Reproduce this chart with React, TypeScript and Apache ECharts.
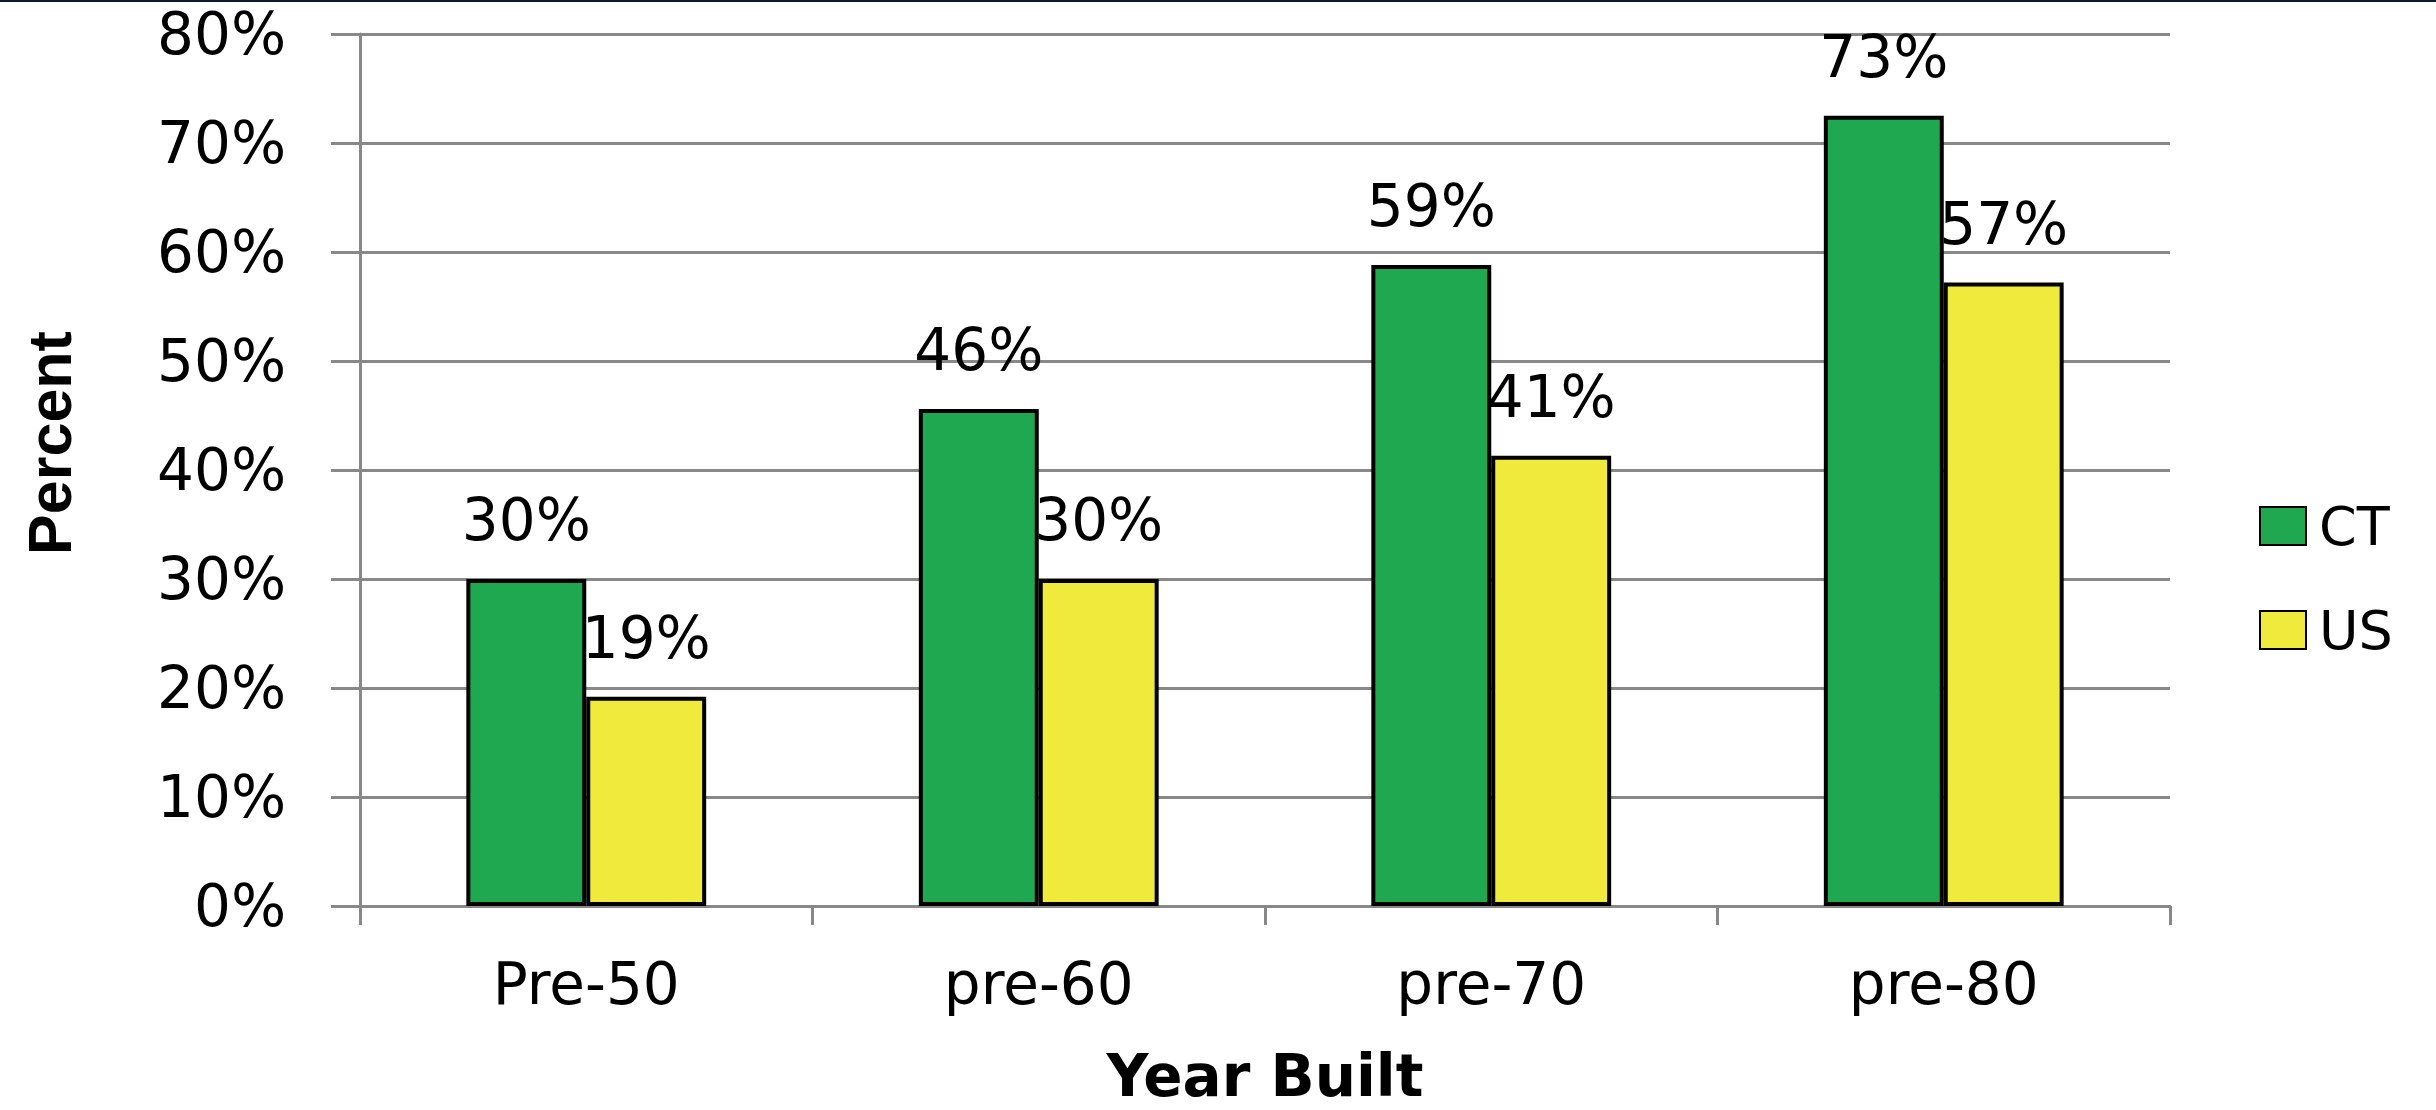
import React, { useEffect, useRef } from "react";
import * as echarts from "echarts";

const categories = ["Pre-50", "pre-60", "pre-70", "pre-80"];
const seriesNames = ["CT", "US"];
const ctValues = [30.0, 45.6, 58.8, 72.5];
const usValues = [19.2, 30.0, 41.3, 57.2];
const yTicks = { min: 0, max: 80, interval: 10 };
const xTitle = "Year Built";
const yTitle = "Percent";

const GREEN = "#20A850";
const YELLOW = "#F0EA3C";
const GRID = "#888888";
const FONT = "'DejaVu Sans', Verdana, sans-serif";

export default function App() {
  const ref = useRef<HTMLDivElement>(null);
  useEffect(() => {
    if (!ref.current) return;
    const chart = echarts.init(ref.current, null, { renderer: "svg" });
    const labelCfg = {
      show: true,
      position: "top",
      distance: 30,
      fontFamily: FONT,
      fontSize: 58,
      color: "#000",
      formatter: (p: any) => Math.round(p.value) + "%",
    };
    chart.setOption({
      animation: false,
      backgroundColor: "#ffffff",
      textStyle: { fontFamily: FONT },
      grid: { left: 360, right: 266, top: 34, bottom: 197, containLabel: false },
      legend: {
        orient: "vertical",
        left: 2254,
        top: 494,
        itemWidth: 46,
        itemHeight: 38,
        itemGap: 50,
        icon: "rect",
        data: seriesNames,
        textStyle: { fontFamily: FONT, fontSize: 54, color: "#000", padding: [0, 0, 0, 8] },
      },
      xAxis: {
        type: "category",
        data: categories,
        name: xTitle,
        nameLocation: "middle",
        nameGap: 170,
        nameTextStyle: {
          fontFamily: FONT,
          fontWeight: "bold",
          fontSize: 58,
          color: "#000",
          verticalAlign: "middle",
        },
        axisLine: { show: true, lineStyle: { color: GRID, width: 3 } },
        axisTick: { show: true, length: 19, lineStyle: { color: GRID, width: 3 } },
        axisLabel: {
          fontFamily: FONT,
          fontSize: 58,
          color: "#000",
          margin: 78,
          verticalAlign: "middle",
        },
      },
      yAxis: {
        type: "value",
        min: yTicks.min,
        max: yTicks.max,
        interval: yTicks.interval,
        axisLine: { show: true, lineStyle: { color: GRID, width: 3 } },
        axisTick: { show: true, length: 29, lineStyle: { color: GRID, width: 3 } },
        splitLine: { show: true, lineStyle: { color: GRID, width: 3 } },
        axisLabel: {
          fontFamily: FONT,
          fontSize: 58,
          color: "#000",
          margin: 74,
          formatter: "{value}%",
        },
      },
      graphic: [
        {
          type: "rect",
          left: 0,
          top: 0,
          shape: { x: 0, y: 0, width: 2436, height: 2 },
          style: { fill: "#0d1b2e" },
          z: 100,
        },
        {
          type: "text",
          x: 50,
          y: 443,
          rotation: Math.PI / 2,
          style: {
            text: yTitle,
            fontFamily: "'Liberation Sans', Arial, sans-serif",
            fontWeight: "bold",
            fontSize: 61,
            fill: "#000",
            align: "center",
            verticalAlign: "middle",
          },
        },
      ],
      series: [
        {
          name: seriesNames[0],
          type: "bar",
          data: ctValues,
          barGap: "0%",
          barCategoryGap: "47%",
          itemStyle: { color: GREEN, borderColor: "#000", borderWidth: 4 },
          label: labelCfg,
        },
        {
          name: seriesNames[1],
          type: "bar",
          data: usValues,
          barGap: "0%",
          barCategoryGap: "47%",
          itemStyle: { color: YELLOW, borderColor: "#000", borderWidth: 4 },
          label: labelCfg,
        },
      ],
    });
    return () => chart.dispose();
  }, []);
  return (
    <div
      ref={ref}
      style={{ position: "fixed", left: 0, top: 0, width: 2436, height: 1110, background: "#fff" }}
    />
  );
}
